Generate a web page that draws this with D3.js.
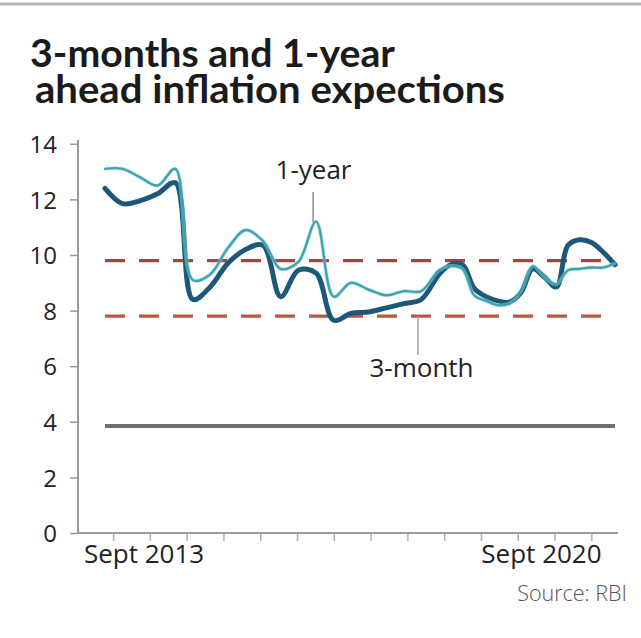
<!DOCTYPE html>
<html>
<head>
<meta charset="utf-8">
<script src="https://cdn.jsdelivr.net/npm/d3@7"></script>
<style>
  html, body { margin: 0; padding: 0; background: #ffffff; }
  svg { display: block; }
</style>
</head>
<body>
<svg id="chart" width="641" height="638"></svg>
<script>
// ---------- data ----------
const dates = ["2013-09","2013-12","2014-03","2014-06","2014-09","2014-12","2015-03","2015-06",
  "2015-09","2015-12","2016-03","2016-06","2016-09","2016-12","2017-03","2017-06","2017-09",
  "2017-12","2018-03","2018-06","2018-08","2018-10","2018-12","2019-02","2019-04","2019-06",
  "2019-08","2019-10","2019-12","2020-02","2020-04","2020-06","2020-08","2020-10","2020-12"];
const threeMonth = [12.4,11.85,11.95,12.2,12.6,8.4,8.85,9.7,10.2,10.35,8.5,9.45,9.35,7.65,7.9,7.95,
  8.1,8.25,8.4,9.3,9.65,9.65,8.8,8.5,8.35,8.3,8.65,9.5,9.2,8.85,10.35,10.55,10.45,10.1,9.65];
const oneYear = [13.1,13.1,12.8,12.5,13.1,9.1,9.3,10.25,10.9,10.5,9.5,9.75,11.2,8.5,9.0,8.75,
  8.55,8.7,8.7,9.45,9.6,9.5,8.55,8.35,8.2,8.25,8.7,9.6,9.2,8.95,9.45,9.5,9.55,9.55,9.7];
const bandUpper = 9.8;
const bandLower = 7.8;
const baseLevel = 3.85;
const yTicks = [0,2,4,6,8,10,12,14];
const xLabels = [{date: "2013-09", text: "Sept 2013"}, {date: "2020-09", text: "Sept 2020"}];
const titleLines = ["3-months and 1-year", "ahead inflation expections"];
const seriesLabels = {oneYear: "1-year", threeMonth: "3-month"};
const sourceText = "Source: RBI";

// ---------- setup ----------
const svg = d3.select("#chart");
const parse = d3.timeParse("%Y-%m");
const dd = dates.map(parse);
const titleFont = "Lato, 'Open Sans', sans-serif";
const font = "'Open Sans', Lato, sans-serif";

const x = d3.scaleTime().domain([dd[0], dd[dd.length - 1]]).range([105, 615]);
const y = d3.scaleLinear().domain([0, 14]).range([533, 143.8]);
const axisX0 = 78, axisX1 = 618;

// top rule
svg.append("line").attr("x1", 0).attr("x2", 641).attr("y1", 4).attr("y2", 4)
  .attr("stroke", "#b5b5b5").attr("stroke-width", 3);

// title (one text element, two lines with tight leading as in the original)
const titleGeom = [{x: 30, y: 67, w: 365}, {x: 35, y: 103, w: 470}];
const title = svg.append("text")
  .attr("font-family", titleFont).attr("font-weight", 700).attr("font-size", 39)
  .attr("fill", "#1b1b1b");
titleLines.forEach((t, i) => {
  title.append("tspan").attr("x", titleGeom[i].x).attr("y", titleGeom[i].y)
    .attr("textLength", titleGeom[i].w).attr("lengthAdjust", "spacingAndGlyphs")
    .text(t);
});

// y axis
const yAxis = d3.axisLeft(y).tickValues(yTicks).tickSize(8).tickPadding(13).tickFormat(d3.format("d"));
const gy = svg.append("g").attr("transform", `translate(${axisX0},0)`).call(yAxis);
gy.select(".domain").remove();
gy.selectAll(".tick line").attr("stroke", "#9a9a9a").attr("stroke-width", 1.5);
gy.selectAll(".tick text").attr("font-family", font).attr("font-size", 24)
  .attr("fill", "#222").attr("dy", "0.36em");
svg.append("line").attr("x1", axisX0).attr("x2", axisX0).attr("y1", y(14) - 4).attr("y2", y(0))
  .attr("stroke", "#9a9a9a").attr("stroke-width", 2);

// x axis
const tickStart = parse("2013-09");
const xTickVals = d3.range(14).map(k => d3.timeDay.offset(tickStart, 42 + 191 * k));
const xAxis = d3.axisBottom(x).tickValues(xTickVals).tickSize(8).tickFormat("");
const gx = svg.append("g").attr("transform", `translate(0,${y(0)})`).call(xAxis);
gx.select(".domain").remove();
gx.selectAll(".tick line").attr("stroke", "#b0b0b0").attr("stroke-width", 1.5);
svg.append("line").attr("x1", axisX0).attr("x2", axisX1).attr("y1", y(0)).attr("y2", y(0))
  .attr("stroke", "#9a9a9a").attr("stroke-width", 2);

xLabels.forEach((l, i) => {
  svg.append("text")
    .attr("x", x(parse(l.date)) + (i === 0 ? 39 : -56))
    .attr("y", 563)
    .attr("text-anchor", "middle")
    .attr("font-family", font).attr("font-size", 26).attr("fill", "#222")
    .text(l.text);
});

// reference lines
[bandUpper, bandLower].forEach((v, i) => {
  svg.append("line").attr("x1", 105).attr("x2", 612).attr("y1", y(v)).attr("y2", y(v))
    .attr("stroke", i === 0 ? "#9a4a42" : "#b8583f").attr("stroke-width", 3.2)
    .attr("stroke-dasharray", "20,14");
});
svg.append("line").attr("x1", 105).attr("x2", 615).attr("y1", y(baseLevel)).attr("y2", y(baseLevel))
  .attr("stroke", "#6e6e6e").attr("stroke-width", 4);

// series lines
const line = d3.line().x((d, i) => x(dd[i])).y(d => y(d)).curve(d3.curveCatmullRom.alpha(0.5));
svg.append("path").datum(threeMonth).attr("d", line)
  .attr("fill", "none").attr("stroke", "#1d5878").attr("stroke-width", 5)
  .attr("stroke-linejoin", "round").attr("stroke-linecap", "round");
svg.append("path").datum(oneYear).attr("d", line)
  .attr("fill", "none").attr("stroke", "#8fd8e0").attr("stroke-width", 4).attr("opacity", 0.5)
  .attr("stroke-linejoin", "round");
svg.append("path").datum(oneYear).attr("d", line)
  .attr("fill", "none").attr("stroke", "#3fa3b0").attr("stroke-width", 2.4)
  .attr("stroke-linejoin", "round").attr("stroke-linecap", "round");

// annotations
const peakIdx = 12;
svg.append("line").attr("x1", x(dd[peakIdx]) - 3).attr("x2", x(dd[peakIdx]) - 3)
  .attr("y1", 192).attr("y2", y(oneYear[peakIdx]))
  .attr("stroke", "#8c8c8c").attr("stroke-width", 1.5);
svg.append("text").attr("x", 313.5).attr("y", 179).attr("text-anchor", "middle")
  .attr("font-family", font).attr("font-size", 26).attr("fill", "#222").text(seriesLabels.oneYear);

const lowIdx = 17;
svg.append("line").attr("x1", x(dd[lowIdx]) + 14).attr("x2", x(dd[lowIdx]) + 14)
  .attr("y1", y(bandLower)).attr("y2", 355)
  .attr("stroke", "#a0a0a0").attr("stroke-width", 1.5);
svg.append("text").attr("x", 421.5).attr("y", 377).attr("text-anchor", "middle")
  .attr("font-family", font).attr("font-size", 26).attr("fill", "#222").text(seriesLabels.threeMonth);

// source
svg.append("text").attr("x", 627).attr("y", 601).attr("text-anchor", "end")
  .attr("font-family", font).attr("font-weight", 300).attr("font-size", 21.5).attr("fill", "#555")
  .text(sourceText);
</script>
</body>
</html>
